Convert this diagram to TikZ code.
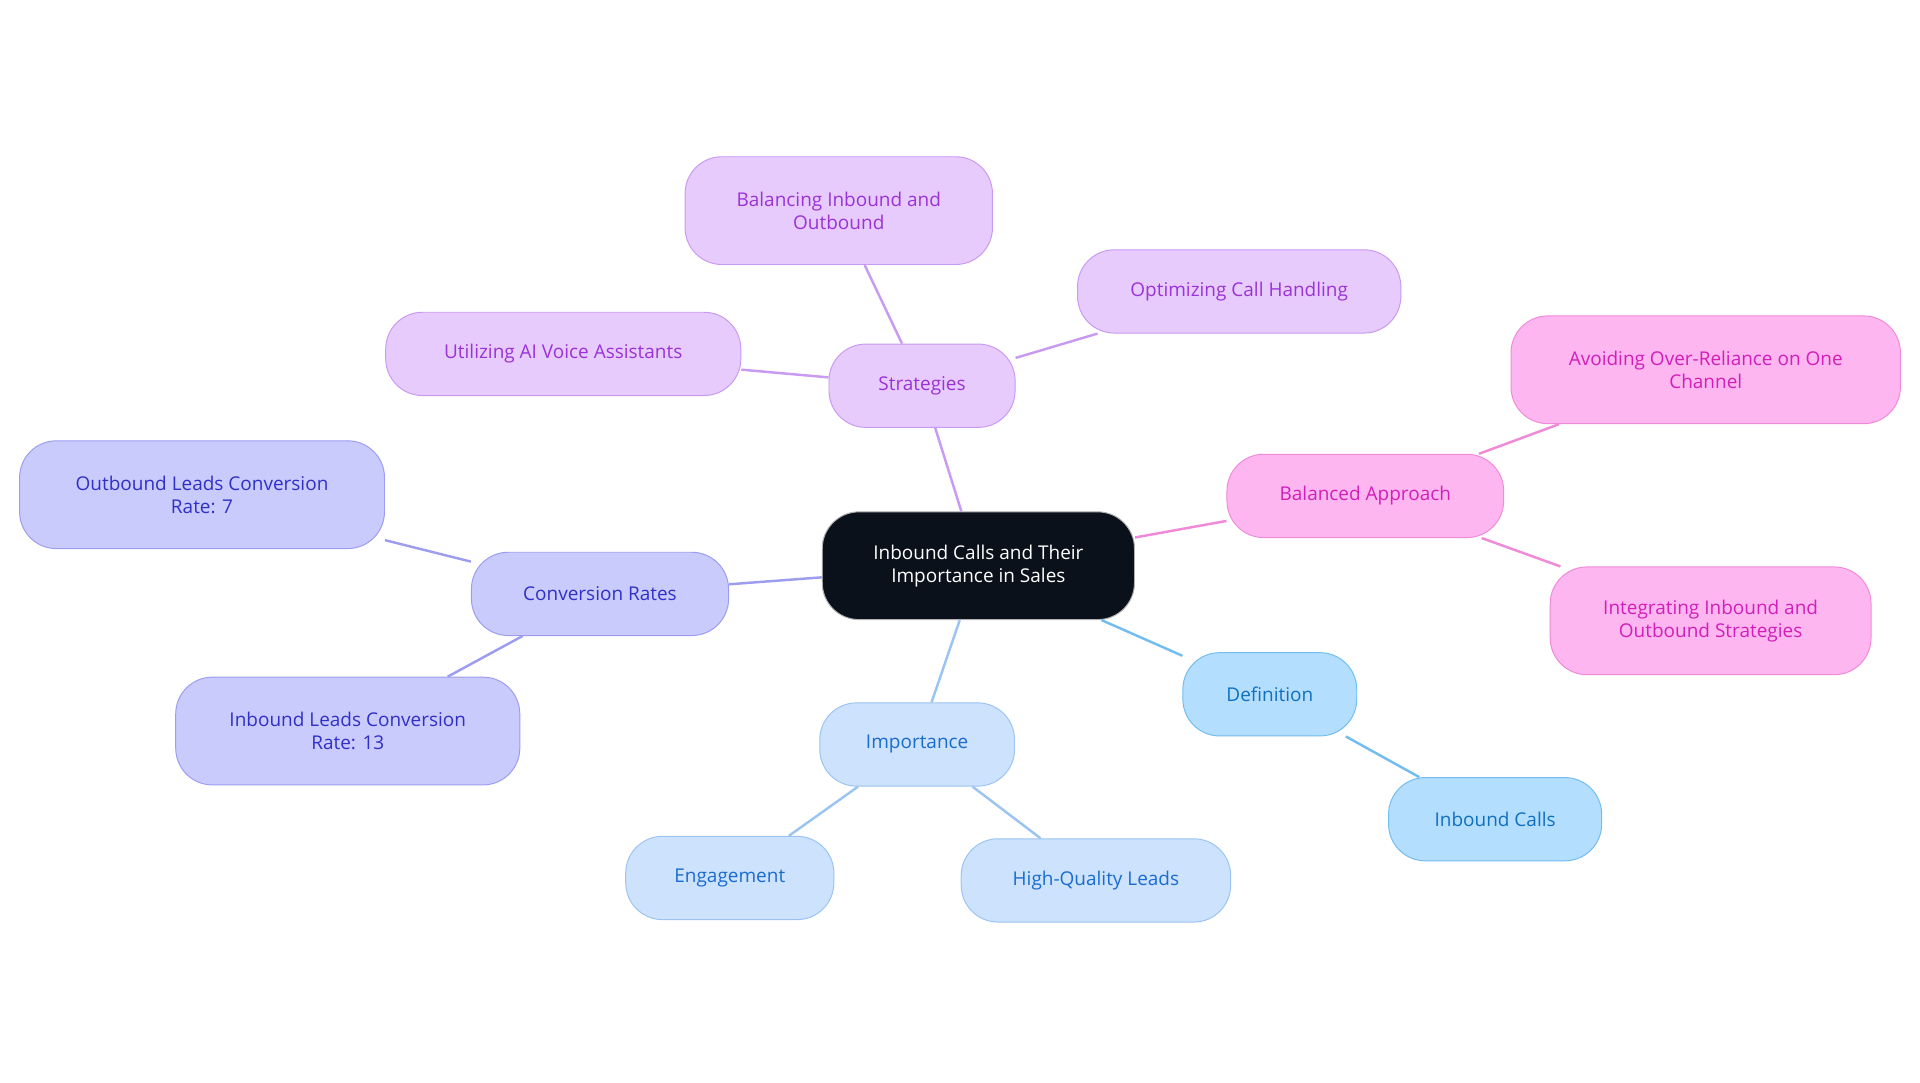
\documentclass[tikz,border=0pt]{standalone}
\usepackage{fontspec}
\setmainfont{Open Sans}
\begin{document}
\begin{tikzpicture}[x=1pt,y=-1pt,
 base/.style={draw,rounded corners=30pt,line width=0.8pt,align=center,font=\fontsize{15.5}{19}\selectfont,inner sep=0pt},
 pur/.style={base,fill=pfill,draw=pline,text=ptext},
 pin/.style={base,fill=kfill,draw=kline,text=ktext},
 ind/.style={base,fill=ifill,draw=iline,text=itext},
 lbl/.style={base,fill=lfill,draw=lline,text=ltext},
 dbl/.style={base,fill=dfill,draw=dline,text=dtext},
 e/.style={line width=2pt}]
\definecolor{pfill}{HTML}{E8CBFD}\definecolor{pline}{HTML}{C99AF2}\definecolor{ptext}{HTML}{9A33D6}
\definecolor{kfill}{HTML}{FEB6F0}\definecolor{kline}{HTML}{F08AD8}\definecolor{ktext}{HTML}{D11FB8}
\definecolor{ifill}{HTML}{CACBFD}\definecolor{iline}{HTML}{9C9CF0}\definecolor{itext}{HTML}{3030C8}
\definecolor{lfill}{HTML}{CDE2FC}\definecolor{lline}{HTML}{9CC4F2}\definecolor{ltext}{HTML}{1A6CD0}
\definecolor{dfill}{HTML}{B4DEFE}\definecolor{dline}{HTML}{72BDF0}\definecolor{dtext}{HTML}{1070C0}
\useasboundingbox[fill=white] (0,0) rectangle (1568,884);
\node[base,fill={rgb,255:red,11;green,17;blue,27},draw=gray!60,text=white,minimum width=255pt,minimum height=88pt] (c) at (799,462) {Inbound Calls and Their\\Importance in Sales};
\node[pur,minimum width=152pt,minimum height=68pt] (s) at (753,315) {Strategies};
\node[pur,minimum width=251pt,minimum height=88pt] (s1) at (685,172) {Balancing Inbound and\\Outbound};
\node[pur,minimum width=264pt,minimum height=68pt] (s2) at (1012,238) {Optimizing Call Handling};
\node[pur,minimum width=290pt,minimum height=68pt] (s3) at (460,289) {Utilizing AI Voice Assistants};
\node[pin,minimum width=226pt,minimum height=68pt] (b) at (1115,405) {Balanced Approach};
\node[pin,minimum width=318pt,minimum height=88pt] (b1) at (1393,302) {Avoiding Over-Reliance on One\\Channel};
\node[pin,minimum width=262pt,minimum height=88pt] (b2) at (1397,507) {Integrating Inbound and\\Outbound Strategies};
\node[ind,minimum width=210pt,minimum height=68pt] (r) at (490,485) {Conversion Rates};
\node[ind,minimum width=298pt,minimum height=88pt] (r1) at (165,404) {Outbound Leads Conversion\\Rate: 7};
\node[ind,minimum width=281pt,minimum height=88pt] (r2) at (284,597) {Inbound Leads Conversion\\Rate: 13};
\node[lbl,minimum width=159pt,minimum height=68pt] (i) at (749,608) {Importance};
\node[lbl,minimum width=170pt,minimum height=68pt] (i1) at (596,717) {Engagement};
\node[lbl,minimum width=220pt,minimum height=68pt] (i2) at (895,719) {High-Quality Leads};
\node[dbl,minimum width=142pt,minimum height=68pt] (d) at (1037,567) {Definition};
\node[dbl,minimum width=174pt,minimum height=68pt] (d1) at (1221,669) {Inbound Calls};
\begin{scope}[on background layer/.style={}]
\end{scope}
\begin{pgfinterruptboundingbox}\end{pgfinterruptboundingbox}
\path[e,draw=pline] (c) -- (s) (s) -- (s1) (s) -- (s2) (s) -- (s3);
\path[e,draw=kline] (c) -- (b) (b) -- (b1) (b) -- (b2);
\path[e,draw=iline] (c) -- (r) (r) -- (r1) (r) -- (r2);
\path[e,draw=lline] (c) -- (i) (i) -- (i1) (i) -- (i2);
\path[e,draw=dline] (c) -- (d) (d) -- (d1);
\end{tikzpicture}
\end{document}
